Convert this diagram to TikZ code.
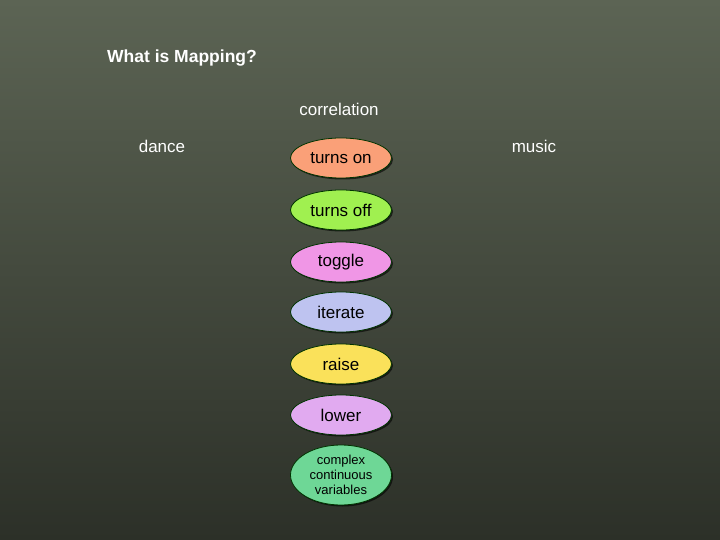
\documentclass[tikz,border=0pt]{standalone}
\usepackage{fontspec}
\setmainfont{Liberation Sans}
\usetikzlibrary{shapes.geometric,shadows}
\begin{document}
\begin{tikzpicture}[x=1pt,y=-1pt,
  lbl/.style={text=white,font=\fontsize{17}{20}\selectfont,anchor=center},
  ov/.style={ellipse,draw=black!80!green,line width=0.8pt,minimum width=101pt,minimum height=40pt,inner sep=0pt,font=\fontsize{17}{20}\selectfont,text=black,drop shadow={shadow xshift=1.5pt,shadow yshift=-1.5pt,fill=black,opacity=0.6}}]
\shade[top color={rgb,255:red,92;green,100;blue,84},bottom color={rgb,255:red,44;green,48;blue,40}] (0,0) rectangle (720,540);
\useasboundingbox (0,0) rectangle (720,540);
\node[lbl,font=\bfseries\fontsize{17.5}{20}\selectfont] (title) at (182,58) {What is Mapping?};
\node[lbl] (corr) at (339,109) {correlation};
\node[lbl] (dance) at (162,146) {dance};
\node[lbl] (music) at (534,146) {music};
\node[ov,fill={rgb,255:red,250;green,160;blue,120}] (a) at (341,158) {turns on};
\node[ov,fill={rgb,255:red,160;green,240;blue,80}] (b) at (341,210) {turns off};
\node[ov,fill={rgb,255:red,240;green,150;blue,230}] (c) at (341,262) {toggle};
\node[ov,fill={rgb,255:red,190;green,195;blue,240}] (d) at (341,312) {iterate};
\node[ov,fill={rgb,255:red,250;green,225;blue,90}] (e) at (341,364) {raise};
\node[ov,fill={rgb,255:red,225;green,170;blue,240}] (f) at (341,415) {lower};
\node[ov,minimum height=60pt,fill={rgb,255:red,110;green,215;blue,150},font=\fontsize{13}{15}\selectfont,align=center] (g) at (341,475) {complex\\continuous\\variables};
\end{tikzpicture}
\end{document}
